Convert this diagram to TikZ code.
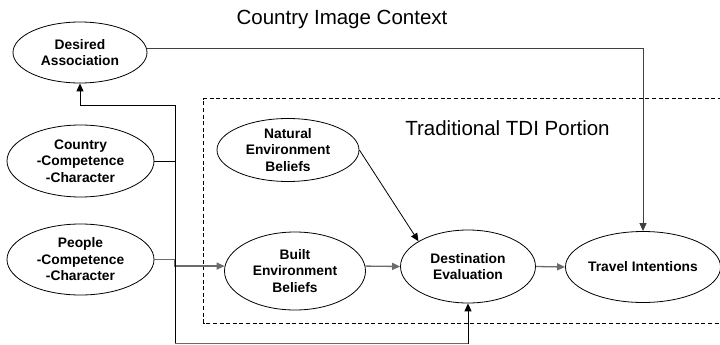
\documentclass[tikz,border=0pt]{standalone}
\usepackage{fontspec}
\setmainfont{Liberation Sans}
\usetikzlibrary{shapes.geometric,arrows.meta}
\begin{document}
\begin{tikzpicture}[x=1pt,y=-1pt,
  concept/.style={ellipse,draw=black,line width=0.8pt,inner sep=0pt,align=center,
    font=\fontsize{13.8}{16.5}\selectfont\bfseries},
  heading/.style={anchor=base,inner sep=0pt,font=\fontsize{20.5}{24}\selectfont},
  tip/.style={-{Triangle[length=8pt,width=7pt]}},
  dark/.style={line width=1pt,draw=black},
  soft/.style={line width=1.3pt,draw=black!58},
  portion/.style={line width=0.8pt,dash pattern=on 4pt off 2.6pt}]
\useasboundingbox (0,0) rectangle (720,345);

% headings
\node[heading] (ctx) at (342,24.5) {Country Image Context};
\node[heading] (tdi) at (507.5,135) {Traditional TDI Portion};

% dashed frame of the TDI portion (runs off the right edge)
\draw[portion] (722,98.5) -- (203.5,98.5) -- (203.5,323) -- (722,323);

% concepts
\node[concept,minimum width=134pt,minimum height=61pt] (da) at (80,52.5) {Desired\\Association};
\node[concept,minimum width=147pt,minimum height=72pt] (ca) at (80.5,161) {Country\\-Competence\\-Character};
\node[concept,minimum width=147pt,minimum height=71pt] (pa) at (80.5,259.5) {People\\-Competence\\-Character};
\node[concept,minimum width=142pt,minimum height=63pt] (ne) at (288,150) {Natural\\Environment\\Beliefs};
\node[concept,minimum width=141pt,minimum height=78pt] (be) at (295,271) {Built\\Environment\\Beliefs};
\node[concept,minimum width=135pt,minimum height=73pt] (de) at (468,266.5) {Destination\\Evaluation};
\node[concept,minimum width=135pt,minimum height=71pt] (ti) at (643,267) {Travel Intentions};

% junction points of the bus on the left
\coordinate (jt) at (175,105);
\coordinate (bt) at (175,343.5);

% country / people -> desired association
\draw[dark] (ca.east) -- (ca.east -| jt);
\draw[dark,tip] (pa.east -| jt) -- (jt) -| (da.south);
\draw[soft] (pa.east) -- (pa.east -| jt);

% people -> built environment and destination evaluation
\draw[soft,tip] (pa.east -| jt) |- (be.176);
\draw[dark] (pa.east -| jt) -- (bt);
\draw[soft] (bt) -- (bt -| de.south);
\draw[dark,tip] (bt -| de.south) -- (de.south);

% traditional TDI links
\draw[dark,line width=0.8pt,tip] (ne.east) -- (de.153);
\draw[soft,tip] (be.4) -- (de.west);
\draw[soft,tip] (de.east) -- (ti.west);

% desired association -> travel intentions
\draw[line width=1pt,draw=black!75,tip] (da.3) -| (ti.north);
\end{tikzpicture}
\end{document}
